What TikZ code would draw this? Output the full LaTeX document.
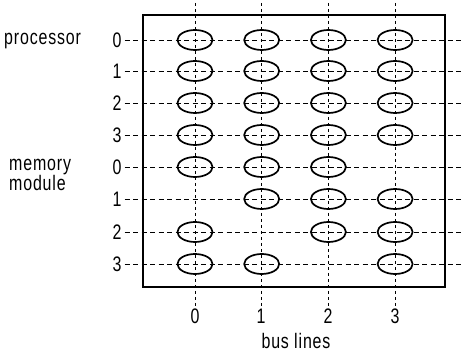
\documentclass[tikz,border=0pt]{standalone}
\usepackage{fontspec}
\setmainfont{Liberation Sans}
\newfontfamily\labfont[FakeStretch=0.76,LetterSpace=4]{Liberation Sans}
\usetikzlibrary{shapes.geometric}
\begin{document}
\begin{tikzpicture}[x=1pt,y=-1pt,
  lab/.style={font=\labfont\fontsize{21}{16}\selectfont, inner sep=0pt},
  switch/.style={ellipse, draw, line width=1.7pt, minimum width=35pt, minimum height=20pt, inner sep=0pt},
  rowline/.style={dash pattern=on 5pt off 3.5pt, line width=0.8pt},
  busline/.style={dash pattern=on 3pt off 3pt, line width=0.8pt}]
\useasboundingbox (0,0) rectangle (461,352);

% switch matrix frame
\draw[line width=1.3pt] (143,15) rectangle (445,287);

% row labels and group captions
\node[lab, anchor=west] (proc) at (4,41) {processor};
\node[lab, anchor=west, align=left] (mem) at (9,175) {memory\\module};
\foreach \r/\t/\y in {0/0/40,1/1/71,2/2/103,3/3/135,4/0/167,5/1/199,6/2/232,7/3/264}{
  \node[lab] (r\r) at (117,\y) {\t};
  \coordinate (re\r) at (461,\y);
}

% bus line labels
\foreach \c/\x in {0/195,1/261,2/328,3/395}{
  \node[lab] (b\c) at (\x,316) {\c};
  \coordinate (bt\c) at (\x,3);
}
\node[lab] (bus) at (296,341) {bus lines};

% bus lines and row lines
\foreach \c in {0,1,2,3}{ \draw[busline] (bt\c) -- (b\c.north) ++(0,-3); }
\foreach \r in {0,...,7}{ \draw[rowline] (r\r.east) ++(3,0) -- (re\r); }

% switches at the crossings
\foreach \r/\y/\cols in {0/40/{0,1,2,3},1/71/{0,1,2,3},2/103/{0,1,2,3},3/135/{0,1,2,3},
                         4/167/{0,1,2},5/199/{1,2,3},6/232/{0,2,3},7/264/{0,1,3}}{
  \foreach \c in \cols {
    \pgfmathsetmacro\xx{195+66.7*\c}
    \node[switch] (s\r\c) at (\xx,\y) {};
  }
}
\end{tikzpicture}
\end{document}
